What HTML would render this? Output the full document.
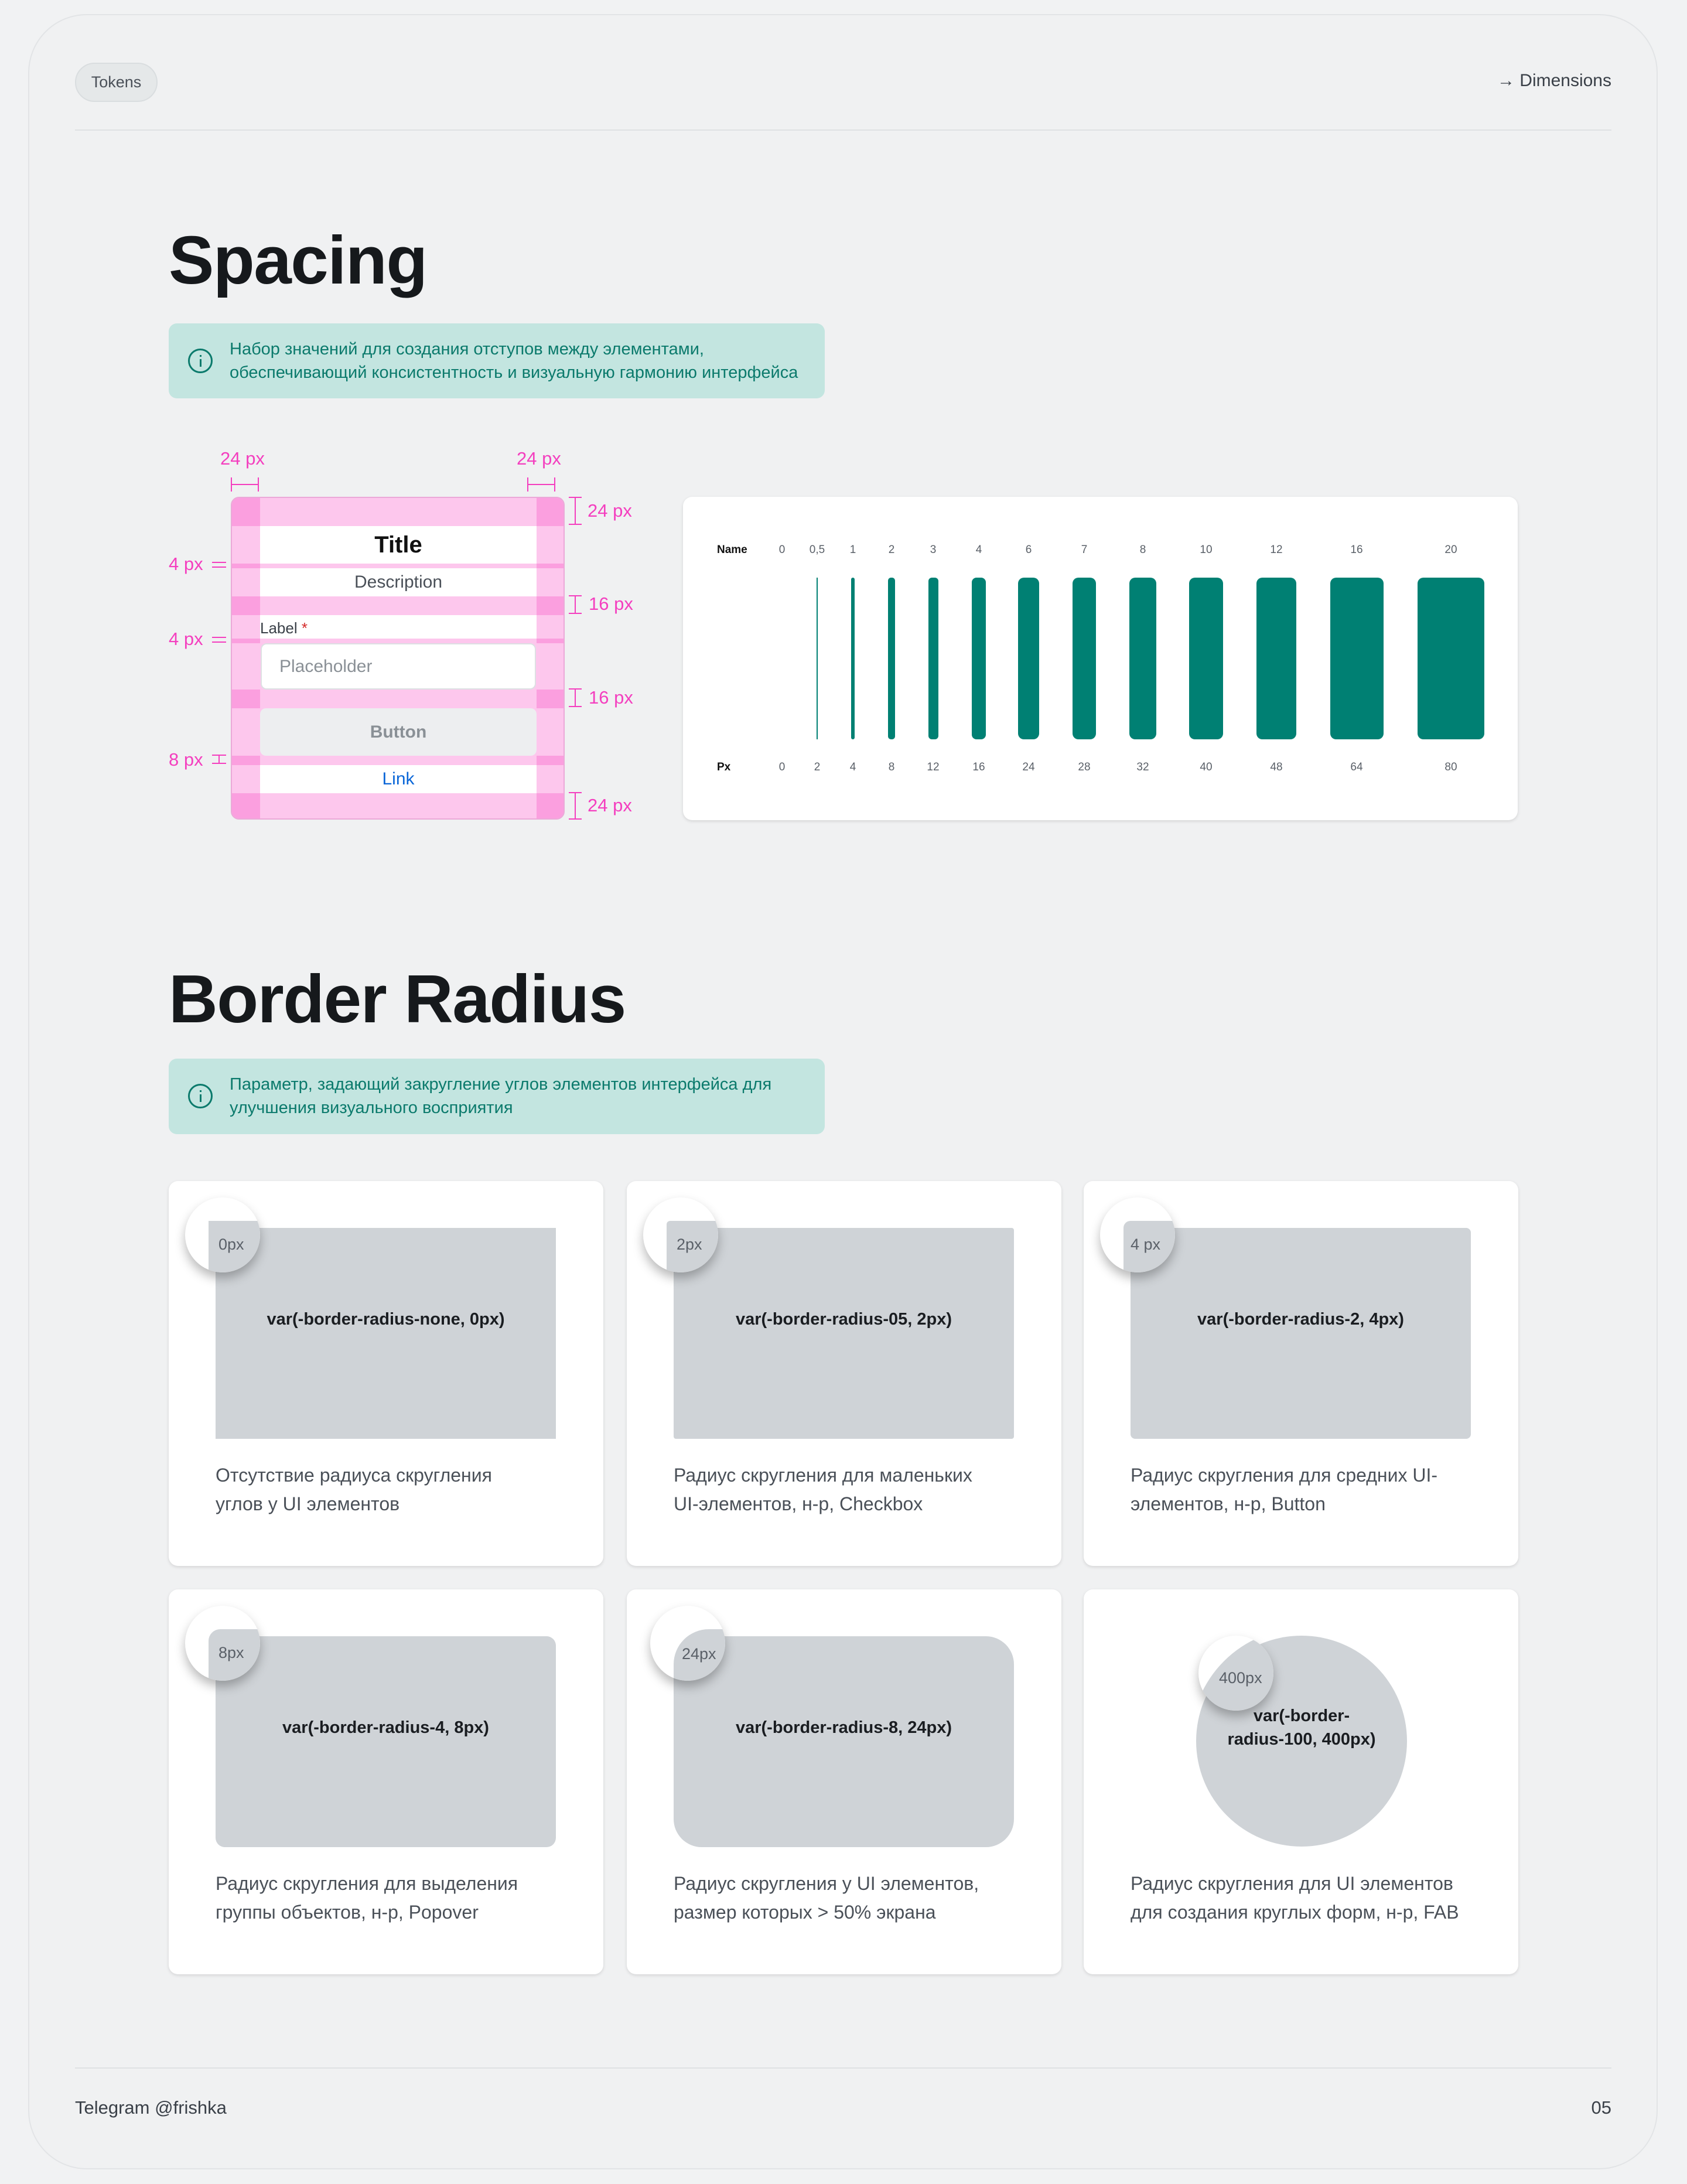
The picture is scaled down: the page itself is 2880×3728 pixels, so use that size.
<!DOCTYPE html>
<html><head><meta charset="utf-8">
<style>
*{margin:0;padding:0;box-sizing:border-box}
body{width:2880px;height:3728px;background:#f1f2f3;position:relative;overflow:hidden;font-family:"Liberation Sans","DejaVu Sans",sans-serif}
.a{position:absolute}
.frame{left:48px;top:24px;width:2782px;height:3679px;border:2px solid #e2e4e6;border-radius:100px;background:#f0f1f2}
.h1{font-weight:700;font-size:116px;line-height:124px;color:#16191c;letter-spacing:-1.5px}
.info{background:#c3e5e0;border-radius:14px;color:#0b7a6c;font-size:29px;line-height:40px}
.ic{width:42px;height:42px;border:3px solid #0b7a6c;border-radius:50%}
.pk{color:#f43fbf;font-size:31px;line-height:34px}
.pl{background:#f43fbf}
.D{background:#fb9fdf}
.card{background:#fff;border-radius:16px;box-shadow:0 2px 6px rgba(0,0,0,.12)}
.rect{background:#cfd3d7}
.mag{width:128px;height:128px;border-radius:50%;background:#fff;overflow:hidden;box-shadow:0 10px 18px rgba(0,0,0,.28)}
.mt{font-size:27px;color:#5a6068;line-height:30px}
.vt{font-size:29px;font-weight:700;color:#1a1d21;line-height:40px;text-align:center}
.ds{font-size:32px;color:#4a5058;line-height:49px}
.cl{font-size:19px;color:#5a6068;line-height:22px;text-align:center;width:60px;margin-left:-30px}
.bar{background:#008073;border-radius:10px;top:986px;height:276px}
</style></head><body>
<div class="a frame"></div>

<div class="a" style="left:128px;top:107px;width:141px;height:67px;border-radius:34px;background:#e5e8e9;border:2px solid #d9dddf;font-size:27px;color:#4a5058;text-align:center;line-height:63px">Tokens</div>
<div class="a" style="right:129px;top:120px;font-size:30px;color:#3a4048;line-height:36px">→ Dimensions</div>
<div class="a" style="left:128px;top:221px;width:2623px;height:2px;background:#dfe1e3"></div>

<div class="a h1" style="left:288px;top:382px">Spacing</div>
<div class="a info" style="left:288px;top:552px;width:1120px;height:128px">
 <div class="a ic" style="left:33px;top:43px"><div class="a" style="left:17px;top:8px;width:3px;height:3px;background:#0b7a6c"></div><div class="a" style="left:17px;top:15px;width:3px;height:13px;background:#0b7a6c"></div></div>
 <div class="a" style="left:104px;top:24px;white-space:nowrap">Набор значений для создания отступов между элементами,<br>обеспечивающий консистентность и визуальную гармонию интерфейса</div>
</div>

<!-- spacing diagram -->
<div class="a" style="left:394px;top:848px;width:570px;height:551px;background:#fdc7ed;border:2px solid #eba9d8;border-radius:14px;overflow:hidden">
 <div class="a D" style="left:0;top:0;width:48px;height:48px"></div><div class="a D" style="left:520px;top:0;width:50px;height:48px"></div>
 <div class="a D" style="left:0;top:112px;width:48px;height:8px"></div><div class="a D" style="left:520px;top:112px;width:50px;height:8px"></div>
 <div class="a D" style="left:0;top:168px;width:48px;height:32px"></div><div class="a D" style="left:520px;top:168px;width:50px;height:32px"></div>
 <div class="a D" style="left:0;top:240px;width:48px;height:8px"></div><div class="a D" style="left:520px;top:240px;width:50px;height:8px"></div>
 <div class="a D" style="left:0;top:327px;width:48px;height:32px"></div><div class="a D" style="left:520px;top:327px;width:50px;height:32px"></div>
 <div class="a D" style="left:0;top:440px;width:48px;height:16px"></div><div class="a D" style="left:520px;top:440px;width:50px;height:16px"></div>
 <div class="a D" style="left:0;top:504px;width:48px;height:50px"></div><div class="a D" style="left:520px;top:504px;width:50px;height:50px"></div>
 <div class="a" style="left:48px;top:48px;width:472px;height:64px;background:#fff;text-align:center;font-weight:700;font-size:40px;line-height:64px;color:#111">Title</div>
 <div class="a" style="left:48px;top:120px;width:472px;height:48px;background:#fff;text-align:center;font-size:30px;line-height:48px;color:#4a5058">Description</div>
 <div class="a" style="left:48px;top:200px;width:472px;height:40px;background:#fff;font-size:26px;line-height:44px;color:#3a4048">Label <span style="color:#d42a2a">*</span></div>
 <div class="a" style="left:49px;top:248px;width:470px;height:79px;background:#fff;border:2px solid #dde0e3;border-radius:10px;font-size:30px;line-height:75px;color:#8a9096;padding-left:30px">Placeholder</div>
 <div class="a" style="left:48px;top:359px;width:472px;height:81px;background:#edeef0;border-radius:10px;text-align:center;font-size:30px;font-weight:700;line-height:81px;color:#8a9096">Button</div>
 <div class="a" style="left:48px;top:456px;width:472px;height:48px;background:#fff;text-align:center;font-size:30px;line-height:48px;color:#0a66d8">Link</div>
</div>
<!-- top markers -->
<div class="a pk" style="left:376px;top:766px">24 px</div>
<div class="a pk" style="left:882px;top:766px">24 px</div>
<div class="a pl" style="left:394px;top:826px;width:47px;height:2px"></div><div class="a pl" style="left:394px;top:815px;width:2px;height:24px"></div><div class="a pl" style="left:440px;top:815px;width:2px;height:24px"></div>
<div class="a pl" style="left:900px;top:826px;width:47px;height:2px"></div><div class="a pl" style="left:900px;top:815px;width:2px;height:24px"></div><div class="a pl" style="left:946px;top:815px;width:2px;height:24px"></div>
<!-- right markers -->
<div class="a pl" style="left:981px;top:848px;width:2px;height:48px"></div><div class="a pl" style="left:971px;top:848px;width:22px;height:2px"></div><div class="a pl" style="left:971px;top:894px;width:22px;height:2px"></div>
<div class="a pk" style="left:1003px;top:855px">24 px</div>
<div class="a pl" style="left:981px;top:1016px;width:2px;height:32px"></div><div class="a pl" style="left:971px;top:1016px;width:22px;height:2px"></div><div class="a pl" style="left:971px;top:1046px;width:22px;height:2px"></div>
<div class="a pk" style="left:1005px;top:1014px">16 px</div>
<div class="a pl" style="left:981px;top:1175px;width:2px;height:32px"></div><div class="a pl" style="left:971px;top:1175px;width:22px;height:2px"></div><div class="a pl" style="left:971px;top:1205px;width:22px;height:2px"></div>
<div class="a pk" style="left:1005px;top:1174px">16 px</div>
<div class="a pl" style="left:981px;top:1352px;width:2px;height:47px"></div><div class="a pl" style="left:971px;top:1352px;width:22px;height:2px"></div><div class="a pl" style="left:971px;top:1397px;width:22px;height:2px"></div>
<div class="a pk" style="left:1003px;top:1358px">24 px</div>
<!-- left markers -->
<div class="a pk" style="left:288px;top:946px">4 px</div>
<div class="a pl" style="left:362px;top:959px;width:24px;height:2px"></div><div class="a pl" style="left:362px;top:967px;width:24px;height:2px"></div>
<div class="a pk" style="left:288px;top:1074px">4 px</div>
<div class="a pl" style="left:362px;top:1087px;width:24px;height:2px"></div><div class="a pl" style="left:362px;top:1095px;width:24px;height:2px"></div>
<div class="a pk" style="left:288px;top:1280px">8 px</div>
<div class="a pl" style="left:362px;top:1288px;width:24px;height:2px"></div><div class="a pl" style="left:362px;top:1302px;width:24px;height:2px"></div><div class="a pl" style="left:373px;top:1288px;width:2px;height:16px"></div>

<!-- chart -->
<div class="a card" style="left:1166px;top:848px;width:1425px;height:552px"></div>
<div class="a" style="left:1224px;top:928px;font-size:19px;font-weight:700;color:#111">Name</div>
<div class="a" style="left:1224px;top:1299px;font-size:19px;font-weight:700;color:#111">Px</div>
<div class="a cl" style="left:1335px;top:928px">0</div><div class="a cl" style="left:1335px;top:1299px">0</div>
<div class="a cl" style="left:1395px;top:928px">0,5</div><div class="a cl" style="left:1395px;top:1299px">2</div>
<div class="a cl" style="left:1456px;top:928px">1</div><div class="a cl" style="left:1456px;top:1299px">4</div>
<div class="a cl" style="left:1522px;top:928px">2</div><div class="a cl" style="left:1522px;top:1299px">8</div>
<div class="a cl" style="left:1593px;top:928px">3</div><div class="a cl" style="left:1593px;top:1299px">12</div>
<div class="a cl" style="left:1671px;top:928px">4</div><div class="a cl" style="left:1671px;top:1299px">16</div>
<div class="a cl" style="left:1756px;top:928px">6</div><div class="a cl" style="left:1756px;top:1299px">24</div>
<div class="a cl" style="left:1851px;top:928px">7</div><div class="a cl" style="left:1851px;top:1299px">28</div>
<div class="a cl" style="left:1951px;top:928px">8</div><div class="a cl" style="left:1951px;top:1299px">32</div>
<div class="a cl" style="left:2059px;top:928px">10</div><div class="a cl" style="left:2059px;top:1299px">40</div>
<div class="a cl" style="left:2179px;top:928px">12</div><div class="a cl" style="left:2179px;top:1299px">48</div>
<div class="a cl" style="left:2316px;top:928px">16</div><div class="a cl" style="left:2316px;top:1299px">64</div>
<div class="a cl" style="left:2477px;top:928px">20</div><div class="a cl" style="left:2477px;top:1299px">80</div>
<div class="a bar" style="left:1394px;width:2px;border-radius:0"></div>
<div class="a bar" style="left:1453px;width:6px;border-radius:3px"></div>
<div class="a bar" style="left:1516px;width:12px;border-radius:5px"></div>
<div class="a bar" style="left:1585px;width:17px;border-radius:6px"></div>
<div class="a bar" style="left:1659px;width:24px;border-radius:8px"></div>
<div class="a bar" style="left:1738px;width:36px"></div>
<div class="a bar" style="left:1831px;width:40px"></div>
<div class="a bar" style="left:1928px;width:46px"></div>
<div class="a bar" style="left:2030px;width:58px"></div>
<div class="a bar" style="left:2145px;width:68px"></div>
<div class="a bar" style="left:2271px;width:91px"></div>
<div class="a bar" style="left:2420px;width:114px"></div>

<div class="a h1" style="left:288px;top:1643px">Border Radius</div>
<div class="a info" style="left:288px;top:1807px;width:1120px;height:129px">
 <div class="a ic" style="left:33px;top:43px"><div class="a" style="left:17px;top:8px;width:3px;height:3px;background:#0b7a6c"></div><div class="a" style="left:17px;top:15px;width:3px;height:13px;background:#0b7a6c"></div></div>
 <div class="a" style="left:104px;top:24px;white-space:nowrap">Параметр, задающий закругление углов элементов интерфейса для<br>улучшения визуального восприятия</div>
</div>

<!-- row 1 -->
<div class="a card" style="left:288px;top:2016px;width:742px;height:657px">
 <div class="a rect" style="left:80px;top:80px;width:581px;height:360px"></div>
 <div class="a vt" style="left:80px;top:216px;width:581px">var(-border-radius-none, 0px)</div>
 <div class="a ds" style="left:80px;top:478px">Отсутствие радиуса скругления<br>углов у UI элементов</div>
 <div class="a mag" style="left:28px;top:28px"><div class="a rect" style="left:40px;top:40px;width:200px;height:200px"></div><div class="a mt" style="left:57px;top:65px">0px</div></div>
</div>
<div class="a card" style="left:1070px;top:2016px;width:742px;height:657px">
 <div class="a rect" style="left:80px;top:80px;width:581px;height:360px;border-radius:4px"></div>
 <div class="a vt" style="left:80px;top:216px;width:581px">var(-border-radius-05, 2px)</div>
 <div class="a ds" style="left:80px;top:478px">Радиус скругления для маленьких<br>UI-элементов, н-р, Checkbox</div>
 <div class="a mag" style="left:28px;top:28px"><div class="a rect" style="left:40px;top:40px;width:200px;height:200px;border-radius:6px"></div><div class="a mt" style="left:57px;top:65px">2px</div></div>
</div>
<div class="a card" style="left:1850px;top:2016px;width:742px;height:657px">
 <div class="a rect" style="left:80px;top:80px;width:581px;height:360px;border-radius:8px"></div>
 <div class="a vt" style="left:80px;top:216px;width:581px">var(-border-radius-2, 4px)</div>
 <div class="a ds" style="left:80px;top:478px">Радиус скругления для средних UI-<br>элементов, н-р, Button</div>
 <div class="a mag" style="left:28px;top:28px"><div class="a rect" style="left:40px;top:40px;width:200px;height:200px;border-radius:12px"></div><div class="a mt" style="left:52px;top:65px">4 px</div></div>
</div>
<!-- row 2 -->
<div class="a card" style="left:288px;top:2713px;width:742px;height:657px">
 <div class="a rect" style="left:80px;top:80px;width:581px;height:360px;border-radius:16px"></div>
 <div class="a vt" style="left:80px;top:216px;width:581px">var(-border-radius-4, 8px)</div>
 <div class="a ds" style="left:80px;top:478px">Радиус скругления для выделения<br>группы объектов, н-р, Popover</div>
 <div class="a mag" style="left:28px;top:28px"><div class="a rect" style="left:40px;top:40px;width:200px;height:200px;border-radius:20px"></div><div class="a mt" style="left:57px;top:65px">8px</div></div>
</div>
<div class="a card" style="left:1070px;top:2713px;width:742px;height:657px">
 <div class="a rect" style="left:80px;top:80px;width:581px;height:360px;border-radius:48px"></div>
 <div class="a vt" style="left:80px;top:216px;width:581px">var(-border-radius-8, 24px)</div>
 <div class="a ds" style="left:80px;top:478px">Радиус скругления у UI элементов,<br>размер которых &gt; 50% экрана</div>
 <div class="a mag" style="left:40px;top:28px"><div class="a rect" style="left:40px;top:40px;width:200px;height:200px;border-radius:60px"></div><div class="a mt" style="left:54px;top:67px">24px</div></div>
</div>
<div class="a card" style="left:1850px;top:2713px;width:742px;height:657px">
 <div class="a rect" style="left:192px;top:79px;width:360px;height:360px;border-radius:50%"></div>
 <div class="a vt" style="left:192px;top:196px;width:360px;line-height:40px">var(-border-<br>radius-100, 400px)</div>
 <div class="a ds" style="left:80px;top:478px">Радиус скругления для UI элементов<br>для создания круглых форм, н-р, FAB</div>
 <div class="a mag" style="left:196px;top:79px"><div class="a rect" style="left:-13px;top:-13px;width:386px;height:386px;border-radius:50%"></div><div class="a mt" style="left:35px;top:57px">400px</div></div>
</div>

<div class="a" style="left:128px;top:3529px;width:2623px;height:2px;background:#dfe1e3"></div>
<div class="a" style="left:128px;top:3579px;font-size:31px;color:#3a4048;line-height:38px">Telegram @frishka</div>
<div class="a" style="right:129px;top:3579px;font-size:31px;color:#3a4048;line-height:38px">05</div>
</body></html>
